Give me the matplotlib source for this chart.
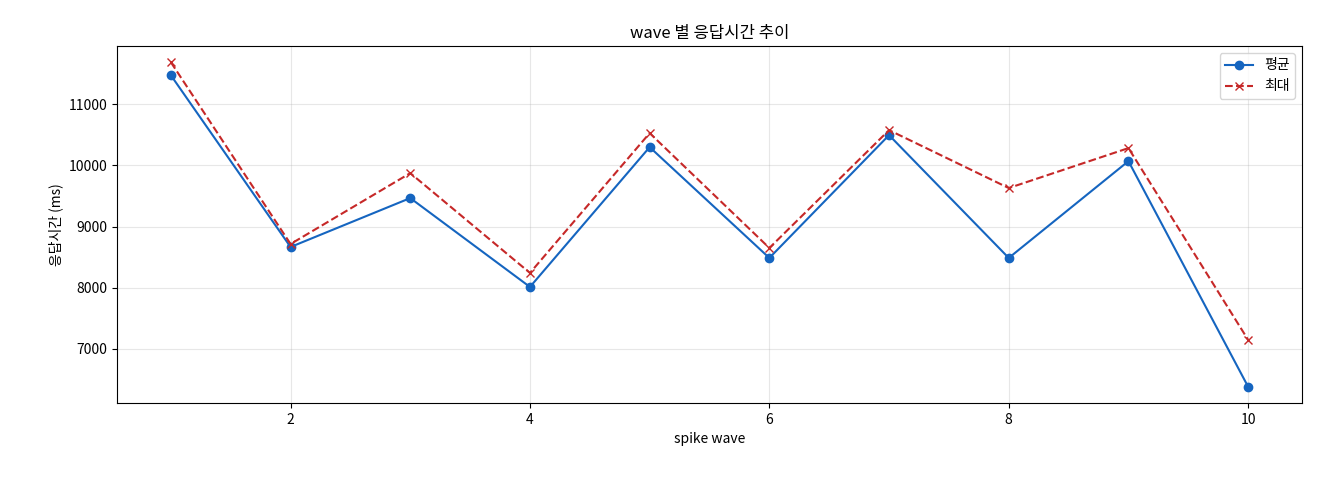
import matplotlib
matplotlib.use("Agg")
import matplotlib.pyplot as plt

plt.rcParams['font.family'] = ['Noto Sans CJK KR', 'DejaVu Sans']

waves = [1, 2, 3, 4, 5, 6, 7, 8, 9, 10]
avg_ms = [11473, 8665, 9465, 8012, 10298, 8486, 10494, 8486, 10069, 6380]
max_ms = [11686, 8714, 9873, 8241, 10527, 8649, 10576, 9629, 10282, 7147]

fig = plt.figure(figsize=(13.2, 4.8), dpi=100)
ax = fig.add_axes([117/1320, 1-403/480, (1302-117)/1320, (403-46)/480])

ax.plot(waves, avg_ms, color='#1565C0', marker='o', markersize=6, label='평균')
ax.plot(waves, max_ms, color='#C62828', marker='x', linestyle='--', markersize=6, label='최대')

ax.set_title('wave 별 응답시간 추이', fontsize=12)
ax.set_xlabel('spike wave', fontsize=10)
ax.set_ylabel('응답시간 (ms)', fontsize=10)
ax.grid(True, alpha=0.3)
ax.legend(loc='upper right')

fig.savefig('out.png', dpi=100)
